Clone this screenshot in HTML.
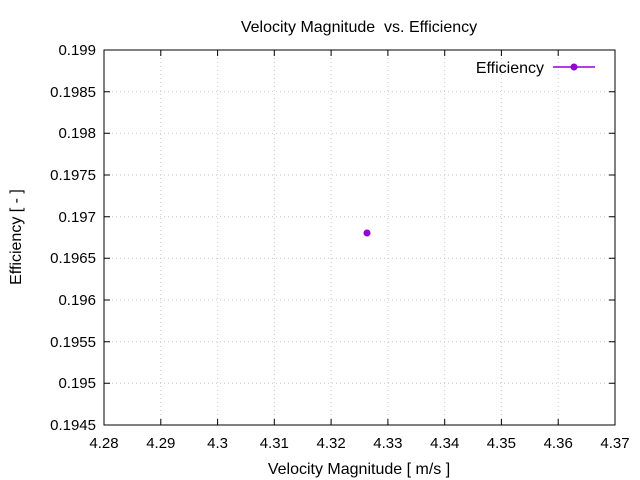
<!DOCTYPE html>
<html><head><meta charset="utf-8"><style>
body{margin:0;background:#fff}
svg{display:block}
text{font-family:"Liberation Sans",sans-serif;font-size:15px;fill:#000}
.big{font-size:16px}
</style></head><body>
<svg width="640" height="480" viewBox="0 0 640 480">
<rect width="640" height="480" fill="#fff"/>
<g stroke="#c8c8c8" stroke-width="1" stroke-dasharray="1,3">
<line x1="160.8" y1="50" x2="160.8" y2="425"/>
<line x1="217.6" y1="50" x2="217.6" y2="425"/>
<line x1="274.3" y1="50" x2="274.3" y2="425"/>
<line x1="331.1" y1="50" x2="331.1" y2="425"/>
<line x1="387.9" y1="50" x2="387.9" y2="425"/>
<line x1="444.7" y1="50" x2="444.7" y2="425"/>
<line x1="501.4" y1="50" x2="501.4" y2="425"/>
<line x1="558.2" y1="50" x2="558.2" y2="425"/>
<line x1="104" y1="91.7" x2="615" y2="91.7"/>
<line x1="104" y1="133.3" x2="615" y2="133.3"/>
<line x1="104" y1="175" x2="615" y2="175"/>
<line x1="104" y1="216.7" x2="615" y2="216.7"/>
<line x1="104" y1="258.3" x2="615" y2="258.3"/>
<line x1="104" y1="300" x2="615" y2="300"/>
<line x1="104" y1="341.7" x2="615" y2="341.7"/>
<line x1="104" y1="383.3" x2="615" y2="383.3"/>
</g>
<rect x="104" y="50" width="511" height="375" fill="none" stroke="#000" stroke-width="1"/>
<g stroke="#000" stroke-width="1">
<path d="M104 425v-6M160.8 425v-6M217.6 425v-6M274.3 425v-6M331.1 425v-6M387.9 425v-6M444.7 425v-6M501.4 425v-6M558.2 425v-6M615 425v-6
M104 50v6M160.8 50v6M217.6 50v6M274.3 50v6M331.1 50v6M387.9 50v6M444.7 50v6M501.4 50v6M558.2 50v6M615 50v6
M104 50h6M104 91.7h6M104 133.3h6M104 175h6M104 216.7h6M104 258.3h6M104 300h6M104 341.7h6M104 383.3h6M104 425h6
M615 50h-6M615 91.7h-6M615 133.3h-6M615 175h-6M615 216.7h-6M615 258.3h-6M615 300h-6M615 341.7h-6M615 383.3h-6M615 425h-6"/>
</g>
<g text-anchor="end">
<text x="96" y="55">0.199</text>
<text x="96" y="97">0.1985</text>
<text x="96" y="138">0.198</text>
<text x="96" y="180">0.1975</text>
<text x="96" y="222">0.197</text>
<text x="96" y="263">0.1965</text>
<text x="96" y="305">0.196</text>
<text x="96" y="347">0.1955</text>
<text x="96" y="388">0.195</text>
<text x="96" y="430">0.1945</text>
</g>
<g text-anchor="middle">
<text x="104" y="448">4.28</text>
<text x="160.8" y="448">4.29</text>
<text x="217.6" y="448">4.3</text>
<text x="274.3" y="448">4.31</text>
<text x="331.1" y="448">4.32</text>
<text x="387.9" y="448">4.33</text>
<text x="444.7" y="448">4.34</text>
<text x="501.4" y="448">4.35</text>
<text x="558.2" y="448">4.36</text>
<text x="615" y="448">4.37</text>
<text class="big" x="359" y="474">Velocity Magnitude [ m/s ]</text>
<text class="big" x="359" y="32" xml:space="preserve">Velocity Magnitude  vs. Efficiency</text>
<text class="big" transform="translate(21,237) rotate(-90)">Efficiency [ - ]</text>
</g>
<text class="big" x="544" y="73" text-anchor="end">Efficiency</text>
<line x1="553" y1="67" x2="595" y2="67" stroke="#9400d3" stroke-width="1.5"/>
<circle cx="574" cy="67" r="3.5" fill="#9400d3"/>
<circle cx="367" cy="233" r="3.5" fill="#9400d3"/>
</svg>
</body></html>
